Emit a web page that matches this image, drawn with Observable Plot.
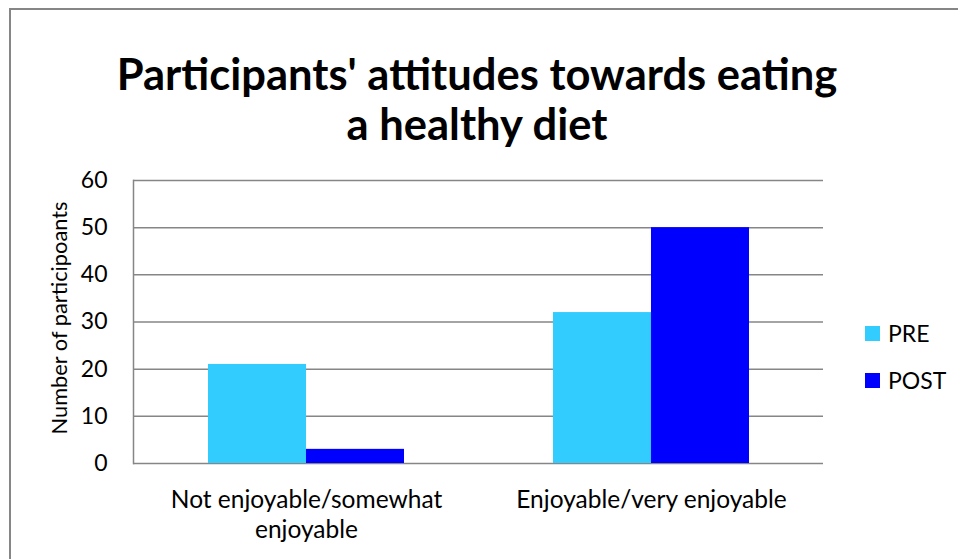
<!DOCTYPE html>
<html>
<head>
<meta charset="utf-8">
<script src="https://cdn.jsdelivr.net/npm/d3@7"></script>
<script src="https://cdn.jsdelivr.net/npm/@observablehq/plot@0.6"></script>
<style>
  html, body { margin: 0; padding: 0; background: #fff; }
  #chart { position: relative; width: 958px; height: 559px; overflow: hidden; font-family: Lato, "Open Sans", sans-serif; color: #000; }
  #border { position: absolute; left: 9px; top: 8px; width: 960px; height: 560px; border-left: 2px solid #868686; border-top: 2px solid #868686; }
  #title { position: absolute; left: 0; top: 48px; width: 954px; text-align: center; font-weight: bold; font-size: 43.5px; line-height: 50px; }
  #plot { position: absolute; left: 0; top: 170px; }
  #legend { position: absolute; left: 865px; top: 318px; font-size: 23px; }
  .item { display: flex; align-items: center; height: 30px; margin-bottom: 17px; }
  .swatch { width: 15px; height: 15px; margin-right: 8px; }
</style>
</head>
<body>
<div id="chart">
  <div id="border"></div>
  <div id="title">Participants' attitudes towards eating<br>a healthy diet</div>
  <div id="plot"></div>
  <div id="legend"></div>
</div>
<script>
// Survey responses, before (PRE) and after (POST) the programme
const categories = ["Not enjoyable/somewhat enjoyable", "Enjoyable/very enjoyable"];
const tickLabels = ["Not enjoyable/somewhat\nenjoyable", "Enjoyable/very enjoyable"];
const series = ["PRE", "POST"];
const preValues = [21, 32];
const postValues = [3, 50];
const yTicks = [0, 10, 20, 30, 40, 50, 60];
const seriesColors = ["#33CCFF", "#0000FF"];
const yLabel = "Number of participoants";

const rows = categories.flatMap((c, i) => [
  {category: c, series: "PRE", value: preValues[i]},
  {category: c, series: "POST", value: postValues[i]}
]);

const W = 958, H = 389, mL = 133, mR = 135;
const padInner = 0.432, padOuter = 0.216;
// each category band holds two side-by-side bars; inset each by half the band
const step = (W - mL - mR) / (categories.length - padInner + 2 * padOuter);
const half = step * (1 - padInner) / 2;
const grid = "#868686";

const chart = Plot.plot({
  width: W,
  height: H,
  marginTop: 10,
  marginBottom: 96,
  marginLeft: mL,
  marginRight: mR,
  style: {fontFamily: "Lato, 'Open Sans', sans-serif", fontSize: "23px", color: "#000", background: "transparent", overflow: "visible"},
  x: {domain: categories, paddingInner: padInner, paddingOuter: padOuter, label: null},
  y: {domain: [0, 60], ticks: yTicks, label: null},
  color: {domain: series, range: seriesColors},
  marks: [
    Plot.ruleY(yTicks, {stroke: grid, strokeWidth: 1.5}),
    Plot.frame({anchor: "left", stroke: grid, strokeWidth: 1.5}),
    Plot.barY(rows.filter(d => d.series === "PRE"), {x: "category", y: "value", fill: "series", insetRight: half}),
    Plot.barY(rows.filter(d => d.series === "POST"), {x: "category", y: "value", fill: "series", insetLeft: half}),
    Plot.axisY({ticks: yTicks, tickSize: 0, tickPadding: 26, fontSize: 23, label: null}),
    Plot.axisX({tickSize: 0, tickPadding: 23, fontSize: 24.5, lineHeight: 1.22,
      tickFormat: d => tickLabels[categories.indexOf(d)], label: null}),
    Plot.text([yLabel], {frameAnchor: "left", textAnchor: "middle", dx: -73, dy: -4, rotate: -90, fontSize: 21.8, text: d => d})
  ]
});
document.getElementById("plot").append(chart);

const legend = document.getElementById("legend");
series.forEach((s, i) => {
  const item = document.createElement("div");
  item.className = "item";
  const sw = document.createElement("span");
  sw.className = "swatch";
  sw.style.background = seriesColors[i];
  const label = document.createElement("span");
  label.textContent = s;
  item.append(sw, label);
  legend.append(item);
});
</script>
</body>
</html>
